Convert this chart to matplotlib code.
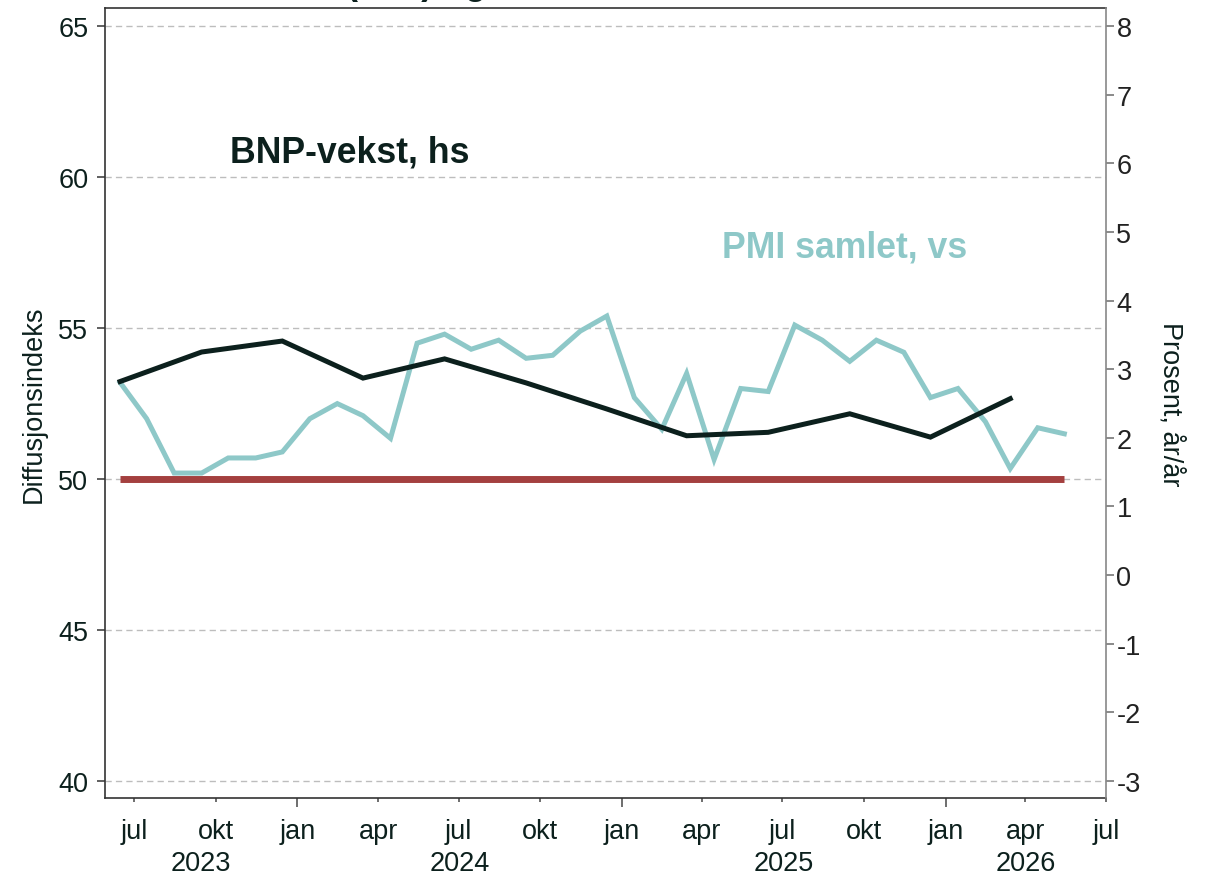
import numpy as np
import pandas as pd
import matplotlib
matplotlib.use("Agg")
import matplotlib.pyplot as plt
import matplotlib.transforms as mtransforms

plt.rcParams['font.family'] = ['Liberation Sans', 'DejaVu Sans']

# PMI samlet (venstre akse), månedlig jun 2023 - mai 2026
pmi_dates = pd.date_range('2023-06-01', '2026-05-01', freq='MS') + pd.Timedelta(days=14)
pmi_values = [53.2, 52.0, 50.2, 50.2, 50.7, 50.7, 50.9,
              52.0, 52.5, 52.1, 51.35, 54.5, 54.8, 54.3, 54.6, 54.0, 54.1, 54.9, 55.4,
              52.7, 51.65, 53.5, 50.65, 53.0, 52.9, 55.1, 54.6, 53.9, 54.6, 54.2, 52.7,
              53.0, 51.9, 50.35, 51.7, 51.5]

# BNP-vekst (høyre akse), kvartalsvis 2. kv 2023 - 1. kv 2026
gdp_dates = pd.date_range('2023-06-01', '2026-03-01', freq='3MS') + pd.Timedelta(days=14)
gdp_values = [2.82, 3.25, 3.41, 2.87, 3.15, 2.80, 2.42, 2.03, 2.08, 2.35, 2.01, 2.57]

threshold = 50
left_ticks = [40, 45, 50, 55, 60, 65]
right_ticks = list(range(-3, 9))
month_names = {1: 'jan', 4: 'apr', 7: 'jul', 10: 'okt'}
years = [2023, 2024, 2025, 2026]

dark = '#0c201d'
teal = '#8ec8c8'
red = '#a4403f'
grid_col = '#bdbdbd'
fs = 19.5

fig = plt.figure(figsize=(12.1, 8.78), dpi=100)
ax = fig.add_axes([105 / 1210, 1 - 799 / 878, (1106 - 105) / 1210, (799 - 9.3) / 878])
ax2 = ax.twinx()

ax.plot(pmi_dates, pmi_values, color=teal, lw=3.6, solid_joinstyle='miter', zorder=3)
ax.plot(pmi_dates, [threshold] * len(pmi_dates), color=red, lw=5, solid_capstyle='butt', zorder=4)
ax2.plot(gdp_dates, gdp_values, color=dark, lw=3.6, solid_joinstyle='miter')

ax.set_xlim(pd.Timestamp('2023-05-29'), pd.Timestamp('2026-07-01'))
ax.set_ylim(39.44, 65.59)
ax2.set_ylim(-3.248, 8.258)

ax.set_yticks(left_ticks)
ax.set_yticklabels([str(t) for t in left_ticks])
ax2.set_yticks(right_ticks)
ax2.set_yticklabels([str(t) for t in right_ticks])
ax.yaxis.grid(True, linestyle=(0, (4.5, 3)), color=grid_col, lw=1.0)
ax.set_axisbelow(True)

quarters = pd.date_range('2023-07-01', '2026-07-01', freq='QS-JAN')
major = [d for d in quarters if d.month == 1]
minor = [d for d in quarters if d.month != 1]
ax.set_xticks(major)
ax.set_xticklabels([month_names[d.month] for d in major])
ax.set_xticks(minor, minor=True)
ax.set_xticklabels([month_names[d.month] for d in minor], minor=True)

ax.tick_params(axis='x', which='major', length=6.5, width=1.2, pad=8,
               colors='#555555', labelcolor=dark, labelsize=fs)
ax.tick_params(axis='x', which='minor', length=3, width=1.2, pad=11.5,
               colors='#555555', labelcolor=dark, labelsize=fs)
ax.tick_params(axis='y', length=6, width=1.2, pad=6, colors='#444444',
               labelcolor=dark, labelsize=fs)
ax2.tick_params(axis='y', length=5.5, width=1.2, pad=2, colors='#777777',
                labelcolor='#222222', labelsize=fs)

for s in ['top', 'left', 'bottom']:
    ax.spines[s].set_color('#333333')
    ax.spines[s].set_linewidth(1.2)
    ax2.spines[s].set_visible(False)
ax.spines['right'].set_visible(False)
ax2.spines['right'].set_color('#888888')
ax2.spines['right'].set_linewidth(1.2)

ax.set_ylabel('Diffusjonsindeks', fontsize=fs, color=dark, labelpad=8)
ax2.set_ylabel('Prosent, år/år', fontsize=fs, color=dark, rotation=270,
               va='bottom', labelpad=12)

# årstall under månedene, midt i synlig del av hvert år
x0, x1 = ax.get_xlim()
trans = mtransforms.blended_transform_factory(ax.transData, ax.transAxes)
for yr in years:
    a = max(matplotlib.dates.date2num(pd.Timestamp(f'{yr}-01-01')), x0)
    b = min(matplotlib.dates.date2num(pd.Timestamp(f'{yr + 1}-01-01')), x1)
    ax.text((a + b) / 2, -0.0825, str(yr), transform=trans, ha='center',
            va='center', fontsize=fs, color=dark)

ax.text(pd.Timestamp('2023-10-17'), 60.83, 'BNP-vekst, hs', fontsize=25.7,
        fontweight='bold', color=dark, va='center', ha='left')
ax.text(pd.Timestamp('2025-04-24'), 57.68, 'PMI samlet, vs', fontsize=25.7,
        fontweight='bold', color=teal, va='center', ha='left')

# tittel, nesten helt utenfor bildet
fig.text(0.08, 1 + 6 / 878, 'Samlet indeks (PMI) og BNP', fontsize=25.7,
         fontweight='bold', color=dark, ha='left', va='baseline')

fig.savefig('out.png', dpi=100)
